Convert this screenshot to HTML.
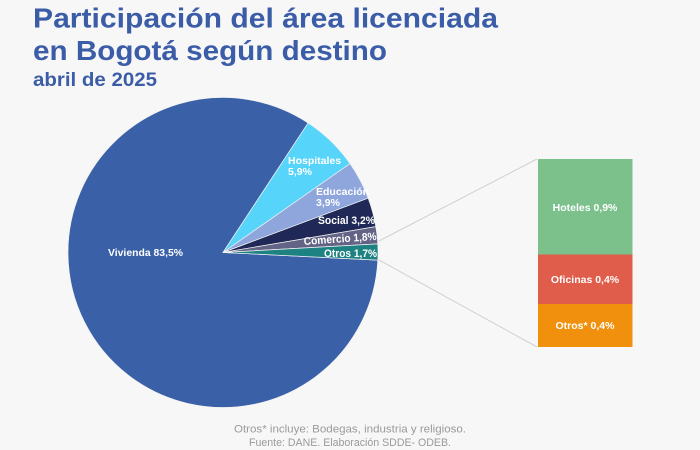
<!DOCTYPE html>
<html><head><meta charset="utf-8">
<style>
html,body{margin:0;padding:0;background:#f7f7f7;}
svg{display:block;}
text{font-family:"Liberation Sans",sans-serif;}
</style></head>
<body>
<svg width="700" height="450" viewBox="0 0 700 450" xmlns="http://www.w3.org/2000/svg">
<rect width="700" height="450" fill="#f7f7f7"/>
<!-- Title -->
<text x="33" y="27.5" font-size="28" font-weight="bold" fill="#3b5ca6" textLength="465" lengthAdjust="spacingAndGlyphs">Participación del área licenciada</text>
<text x="33" y="60" font-size="28" font-weight="bold" fill="#3b5ca6" textLength="354" lengthAdjust="spacingAndGlyphs">en Bogotá según destino</text>
<text x="33" y="86" font-size="19" fill="#3b5ca6" font-weight="bold" textLength="124" lengthAdjust="spacingAndGlyphs">abril de 2025</text>

<!-- connector lines -->
<line x1="379" y1="241" x2="537" y2="159" stroke="#d0d0d0" stroke-width="1"/>
<line x1="379" y1="260" x2="537" y2="347" stroke="#d0d0d0" stroke-width="1"/>

<!-- Pie -->
<g stroke="#f2f2f2" stroke-width="0.7" stroke-linejoin="round">
<path d="M223,252.5 L377.8,260.1 A155,155 0 1 1 308.1,122.95 Z" fill="#3a60a8"/>
<path d="M223,252.5 L308.1,122.95 A155,155 0 0 1 350.0,163.6 Z" fill="#56d4fa"/>
<path d="M223,252.5 L350.0,163.6 A155,155 0 0 1 368.2,198.2 Z" fill="#8ea6dc"/>
<path d="M223,252.5 L368.2,198.2 A155,155 0 0 1 375.8,226.6 Z" fill="#1f2856"/>
<path d="M223,252.5 L375.8,226.6 A155,155 0 0 1 377.8,243.9 Z" fill="#636386"/>
<path d="M223,252.5 L377.8,243.9 A155,155 0 0 1 377.8,260.1 Z" fill="#1f8282"/>
</g>

<!-- Pie labels -->
<g fill="#ffffff" font-weight="bold" font-size="10.5">
<text x="108" y="256" textLength="75" lengthAdjust="spacingAndGlyphs">Vivienda 83,5%</text>
<text x="288" y="164">Hospitales</text>
<text x="288" y="175">5,9%</text>
<text x="316" y="195">Educación</text>
<text x="316" y="206">3,9%</text>
<text x="318" y="224" font-size="11" textLength="57" lengthAdjust="spacingAndGlyphs">Social 3,2%</text>
<text x="304" y="245" font-size="11" transform="rotate(-4 304 245)" textLength="73" lengthAdjust="spacingAndGlyphs">Comercio 1,8%</text>
<text x="324" y="257" font-size="11" textLength="53" lengthAdjust="spacingAndGlyphs">Otros 1,7%</text>
</g>

<!-- Bar -->
<rect x="538" y="159" width="94.5" height="95.5" fill="#7cc18c"/>
<rect x="538" y="254.5" width="94.5" height="49.5" fill="#e05d4b"/>
<rect x="538" y="304" width="94.5" height="43" fill="#f0900c"/>
<g fill="#ffffff" font-weight="bold" font-size="10.5" text-anchor="middle">
<text x="585" y="211">Hoteles 0,9%</text>
<text x="585" y="283">Oficinas 0,4%</text>
<text x="585" y="329">Otros* 0,4%</text>
</g>

<!-- Footer -->
<g fill="#9a9a9a" font-size="11" text-anchor="middle">
<text x="350" y="432.5" textLength="232" lengthAdjust="spacingAndGlyphs">Otros* incluye: Bodegas, industria y religioso.</text>
<text x="350" y="446" textLength="202" lengthAdjust="spacingAndGlyphs">Fuente: DANE. Elaboración SDDE- ODEB.</text>
</g>
</svg>
</body></html>
